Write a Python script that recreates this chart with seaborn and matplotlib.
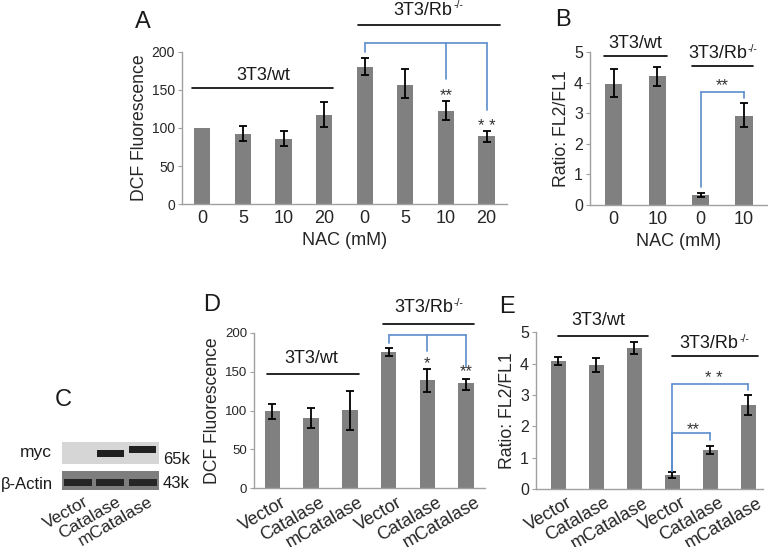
#
# plot.py
#

import numpy as np
import matplotlib
matplotlib.use('Agg')
import matplotlib.pyplot as plt
import matplotlib.transforms as mtransforms
import seaborn as sns
import pandas as pd

# ---- data ----
# A: DCF fluorescence vs NAC
a_labels = ['0', '5', '10', '20', '0', '5', '10', '20']
a_vals = [100, 92, 86, 117, 180, 157, 122, 89]
a_lo = [np.nan, 83, 76, 101, 170, 139, 110, 82]
a_hi = [np.nan, 102, 96, 134, 192, 177, 135, 96]

# B: ratio FL2/FL1 vs NAC
b_labels = ['0', '10', '0', '10']
b_vals = [3.97, 4.2, 0.33, 2.92]
b_lo = [3.52, 3.9, 0.26, 2.54]
b_hi = [4.43, 4.52, 0.40, 3.32]

# C: western blot lanes (band intensity 0..1)
c_lanes = ['Vector', 'Catalase', 'mCatalase']
c_myc = [0.0, 1.0, 0.92]
c_actin = [0.9, 0.9, 0.85]

# D: DCF fluorescence vs construct
d_labels = ['Vector', 'Catalase', 'mCatalase', 'Vector', 'Catalase', 'mCatalase']
d_vals = [99, 91, 101, 175, 139, 135]
d_lo = [89, 77, 75, 170, 124, 127]
d_hi = [109, 104, 125, 180, 153, 141]

# E: ratio FL2/FL1 vs construct
e_labels = ['Vector', 'Catalase', 'mCatalase', 'Vector', 'Catalase', 'mCatalase']
e_vals = [4.1, 3.96, 4.49, 0.45, 1.24, 2.68]
e_lo = [3.97, 3.72, 4.3, 0.35, 1.12, 2.37]
e_hi = [4.22, 4.19, 4.68, 0.55, 1.38, 2.99]

BAR = '#808080'
BLUE = '#5b8ccc'
AXC = '#a0a0a0'

sns.set_style('ticks')
plt.rcParams['font.family'] = ['Liberation Sans', 'DejaVu Sans']
plt.rcParams['text.color'] = '#1a1a1a'

fig = plt.figure(figsize=(7.68, 5.47), dpi=100)


def bars(ax, labels, vals, lo, hi, ylim, xlim, ytick_fs, xtick_fs):
    df = pd.DataFrame({'pos': range(len(vals)), 'val': vals})
    sns.barplot(data=df, x='pos', y='val', color=BAR, width=0.4,
                saturation=1, errorbar=None, linewidth=0, ax=ax)
    vals = np.array(vals, float)
    lo = np.array(lo, float)
    hi = np.array(hi, float)
    m = ~np.isnan(lo)
    pos = np.arange(len(vals))
    ax.errorbar(pos[m], vals[m], yerr=[vals[m] - lo[m], hi[m] - vals[m]],
                fmt='none', ecolor='black', elinewidth=1.3, capsize=3,
                capthick=1.3)
    ax.set_ylim(*ylim)
    ax.set_xlim(*xlim)
    ax.set_xticks(pos)
    ax.set_xticklabels(labels)
    ax.set_xlabel('')
    ax.set_ylabel('')
    sns.despine(ax=ax)
    for s in ['left', 'bottom']:
        ax.spines[s].set_color(AXC)
        ax.spines[s].set_linewidth(1.0)
    ax.tick_params(axis='y', length=3, color=AXC, labelsize=ytick_fs, pad=2)
    ax.tick_params(axis='x', length=0, labelsize=xtick_fs, pad=4)


def group(ax, x0, x1, y, ty, xc, text, sup=False, fs=13):
    ax.plot([x0, x1], [y, y], color='black', lw=1.2, clip_on=False)
    if not sup:
        ax.text(xc, ty, text, ha='center', va='baseline', fontsize=fs,
                clip_on=False)
    else:
        off = 3.279 * fs - 0.5 * (3.279 * fs + 0.944 * 7.5)
        ax.annotate(text, xy=(xc, ty), xytext=(off, 0), textcoords='offset points',
                    ha='right', va='baseline', fontsize=fs, annotation_clip=False)
        ax.annotate('-/-', xy=(xc, ty), xytext=(off + 0.5, 4.5),
                    textcoords='offset points', ha='left', va='baseline',
                    fontsize=7.5, annotation_clip=False)


def bracket(ax, ytop, drops):
    xs = [d[0] for d in drops]
    ax.plot([min(xs), max(xs)], [ytop, ytop], color=BLUE, lw=1.2, clip_on=False)
    for x, yb in drops:
        ax.plot([x, x], [ytop, yb], color=BLUE, lw=1.2, clip_on=False)


def stars(ax, x, y, s):
    ax.text(x, y, s, ha='center', va='center', fontsize=12, color='#333333')


def slant(ax, dx=6, dy=0):
    off = mtransforms.ScaledTranslation(dx / 72, dy / 72, fig.dpi_scale_trans)
    for lab in ax.get_xticklabels():
        lab.set_rotation(30)
        lab.set_ha('right')
        lab.set_rotation_mode('anchor')
        lab.set_transform(lab.get_transform() + off)


# ---- A ----
axA = fig.add_axes([0.237, 0.627, 0.423, 0.278])
bars(axA, a_labels, a_vals, a_lo, a_hi, (0, 200), (-0.5, 7.5), 10, 13)
axA.set_yticks([0, 50, 100, 150, 200])
axA.set_ylabel('DCF Fluorescence', fontsize=12.7, labelpad=3)
axA.set_xlabel('NAC (mM)', fontsize=13, labelpad=4)
group(axA, -0.25, 3.23, 152.6, 163, 1.5, '3T3/wt')
group(axA, 3.83, 7.33, 235.5, 249, 5.55, '3T3/Rb', sup=True)
bracket(axA, 211.8, [(4, 200), (6, 164.5), (7, 123.7)])
stars(axA, 6, 143, '**')
stars(axA, 7, 102, '* *')

# ---- B ----
axB = fig.add_axes([0.768, 0.625, 0.231, 0.280])
bars(axB, b_labels, b_vals, b_lo, b_hi, (0, 5), (-0.55, 3.53), 11.5, 13)
axB.set_yticks(range(6))
axB.set_ylabel('Ratio: FL2/FL1', fontsize=12.7, labelpad=3)
axB.set_xlabel('NAC (mM)', fontsize=13, labelpad=4)
group(axB, -0.23, 1.22, 4.87, 5.13, 0.5, '3T3/wt')
group(axB, 1.8, 3.21, 4.54, 4.8, 2.5, '3T3/Rb', sup=True)
bracket(axB, 3.69, [(2, 0.59), (3, 3.5)])
stars(axB, 2.5, 3.9, '**')

# ---- C (western blot) ----
lane_x = np.arange(len(c_lanes))
axC1 = fig.add_axes([0.0807, 0.152, 0.126, 0.040])
axC2 = fig.add_axes([0.0807, 0.104, 0.126, 0.035])
axC1.set_facecolor('#d6d6d6')
axC2.set_facecolor('#7e7e7e')
for i, v in enumerate(c_myc):
    if v > 0:
        shift = 0.18 if c_lanes[i] == 'mCatalase' else 0.0
        axC1.bar(lane_x[i], 0.3 * v + 0.02, bottom=0.33 + shift, width=0.85,
                 color=str(0.12 + 0.1 * (1 - v)), linewidth=0)
for i, v in enumerate(c_actin):
    axC2.bar(lane_x[i], 0.37, bottom=0.2, width=0.87,
             color=str(0.12 + 0.2 * (1 - v)), linewidth=0)
for ax in (axC1, axC2):
    ax.set_xlim(-0.5, 2.5)
    ax.set_ylim(0, 1)
    ax.set_xticks([])
    ax.set_yticks([])
    for s in ax.spines.values():
        s.set_visible(False)
axC2.set_xticks(lane_x)
axC2.set_xticklabels(c_lanes, fontsize=12.5)
axC2.tick_params(axis='x', length=0, pad=3)
slant(axC2, dx=4)
fig.text(52 / 768, 1 - 453 / 547, 'myc', ha='right', va='center', fontsize=12.5)
fig.text(53 / 768, 1 - 484 / 547, 'β-Actin', ha='right', va='center', fontsize=12)
fig.text(163 / 768, 1 - 460 / 547, '65k', ha='left', va='center', fontsize=12)
fig.text(163 / 768, 1 - 483 / 547, '43k', ha='left', va='center', fontsize=12)

# ---- D ----
axD = fig.add_axes([0.331, 0.1073, 0.301, 0.284])
bars(axD, d_labels, d_vals, d_lo, d_hi, (0, 200), (-0.47, 5.5), 9.5, 13)
axD.set_yticks([0, 50, 100, 150, 200])
axD.set_ylabel('DCF Fluorescence', fontsize=12.7, labelpad=3)
slant(axD)
group(axD, -0.13, 2.23, 146.7, 161, 1.0, '3T3/wt')
group(axD, 2.85, 5.2, 212, 227, 4.02, '3T3/Rb', sup=True)
bracket(axD, 197, [(3, 187), (4, 177), (5, 157)])
stars(axD, 4, 161, '*')
stars(axD, 5, 150, '**')

# ---- E ----
axE = fig.add_axes([0.698, 0.106, 0.296, 0.2865])
bars(axE, e_labels, e_vals, e_lo, e_hi, (0, 5), (-0.58, 5.4), 11.5, 13)
axE.set_yticks(range(6))
axE.set_ylabel('Ratio: FL2/FL1', fontsize=12.7, labelpad=3)
slant(axE)
group(axE, 0.0, 2.37, 4.89, 5.23, 1.05, '3T3/wt')
group(axE, 3.0, 5.26, 4.24, 4.5, 4.1, '3T3/Rb', sup=True)
bracket(axE, 3.35, [(3, 0.56), (5, 3.16)])
bracket(axE, 1.79, [(3, 0.56), (4, 1.56)])
stars(axE, 4.1, 3.52, '* *')
stars(axE, 3.55, 1.9, '**')

# panel letters
for lab, x, y in [('A', 143, 22), ('B', 563, 20), ('C', 63, 400),
                  ('D', 212, 305), ('E', 507, 307)]:
    fig.text(x / 768, 1 - y / 547, lab, ha='center', va='center', fontsize=17)

fig.savefig('out.png', dpi=100)
